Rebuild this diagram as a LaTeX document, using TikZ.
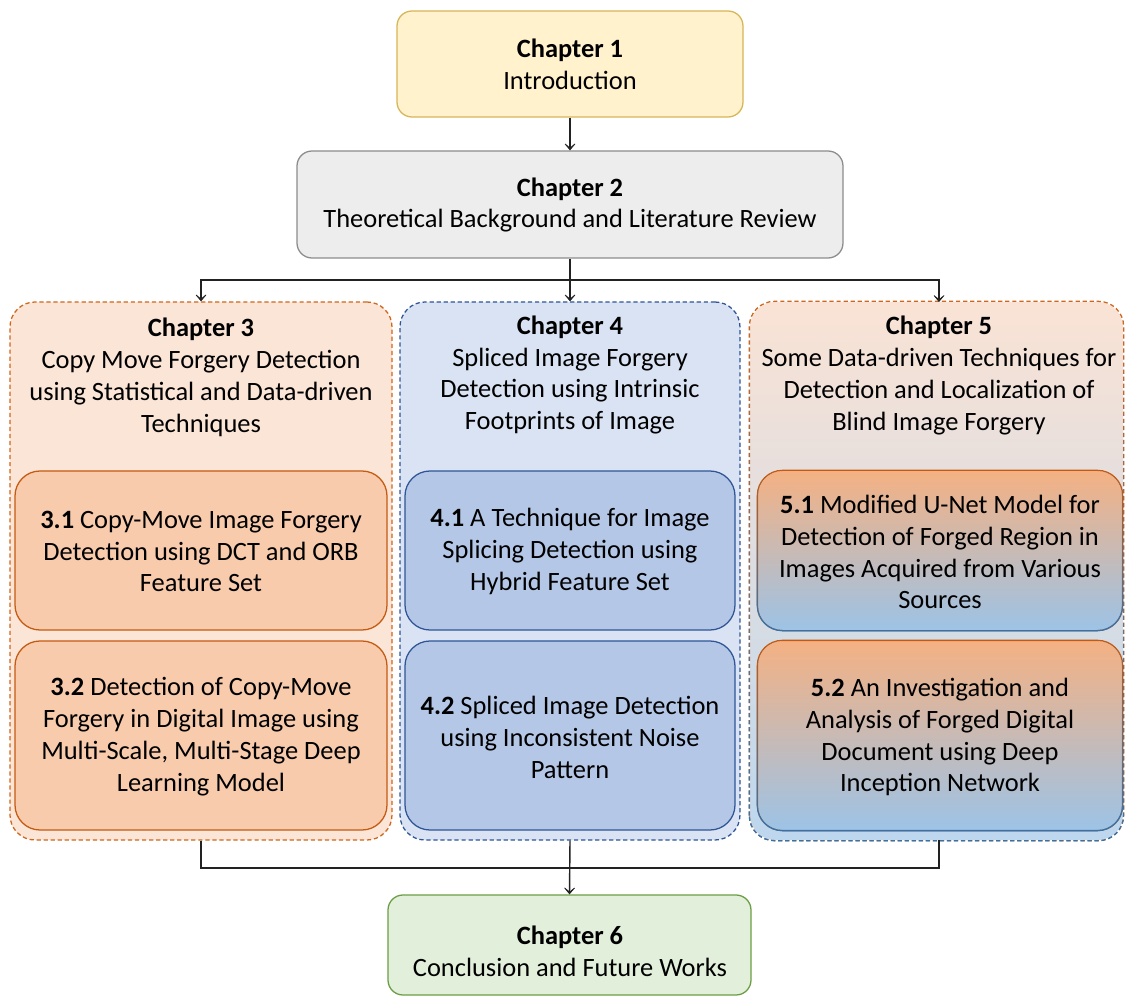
\documentclass[tikz,border=0pt]{standalone}
\usepackage{fontspec}
\setmainfont{Carlito}
\usetikzlibrary{arrows.meta,fadings}
\definecolor{yfill}{HTML}{FFF2CC}\definecolor{ydraw}{HTML}{D6B656}
\definecolor{gfill}{HTML}{EDEDED}\definecolor{gdraw}{HTML}{8C8C8C}
\definecolor{ofill}{HTML}{FBE5D6}\definecolor{odraw}{HTML}{D0661C}
\definecolor{oin}{HTML}{F8CBAD}\definecolor{oindraw}{HTML}{C55A11}
\definecolor{bfill}{HTML}{DAE3F3}\definecolor{bdraw}{HTML}{2F5597}
\definecolor{bin}{HTML}{B4C7E7}
\definecolor{mixtop}{HTML}{F4B183}\definecolor{mixbot}{HTML}{9DC3E6}
\definecolor{mixdraw}{HTML}{2E75B6}
\definecolor{c5top}{HTML}{FAE3D5}\definecolor{c5bot}{HTML}{BDD7EE}
\definecolor{grfill}{HTML}{E2EFDA}\definecolor{grdraw}{HTML}{6A9E45}
\definecolor{linec}{HTML}{222222}
\tikzfading[name=fadeup, top color=transparent!100, bottom color=transparent!0]
\newcommand{\pu}{0.025cm}
\tikzset{
  txt/.style={font=\fontsize{18.8pt}{22.7pt}\selectfont, align=center, inner sep=0pt, text=black},
  box/.style={rectangle, rounded corners=15*\pu, line width=0.9pt, inner sep=0pt},
  cont/.style={rectangle, rounded corners=25*\pu, line width=0.9pt, dash pattern=on 3pt off 2pt, inner sep=0pt},
  inbox/.style={rectangle, rounded corners=25*\pu, line width=0.9pt, inner sep=0pt},
  arr/.style={line width=1pt, draw=linec, -{Stealth[length=6.5pt,width=11pt,inset=4.5pt]}},
  ln/.style={line width=1pt, draw=linec},
}
\begin{document}
\begin{tikzpicture}[x=0.025cm,y=-0.025cm]
\useasboundingbox (0,0) rectangle (1125,997);
% Chapter 1 and 2
\node[box, draw=ydraw, fill=yfill, minimum width=346*\pu, minimum height=106*\pu] (c1) at (570,64) {};
\node[txt] (c1t) at (570,64) {\textbf{Chapter 1}\\Introduction};
\node[box, draw=gdraw, fill=gfill, minimum width=546*\pu, minimum height=107*\pu] (c2) at (570,204.5) {};
\node[txt] (c2t) at (570,205) {\textbf{Chapter 2}\\Theoretical Background and Literature Review};
% containers
\node[cont, draw=odraw, fill=ofill, minimum width=382*\pu, minimum height=538*\pu] (c3) at (201,571) {};
\node[cont, draw=bdraw, fill=bfill, minimum width=340*\pu, minimum height=538*\pu] (c4) at (570,571) {};
\node[cont, top color=c5top, bottom color=c5bot, minimum width=373*\pu, minimum height=538*\pu] (c5) at (936.5,571) {};
\draw[cont, draw=odraw] (c5.south west) rectangle (c5.north east);
\draw[cont, draw=mixdraw, path fading=fadeup, fit fading=true] (c5.south west) rectangle (c5.north east);
\coordinate (c5in) at (939,302);
\coordinate (c5out) at (939,840);
% container titles
\node[txt] (c3t) at (201,377) {\textbf{Chapter 3}\\Copy Move Forgery Detection\\using Statistical and Data-driven\\Techniques};
\node[txt] (c4t) at (570,375) {\textbf{Chapter 4}\\Spliced Image Forgery\\Detection using Intrinsic\\Footprints of Image};
\node[txt] (c5t) at (939,375.5) {\textbf{Chapter 5}\\Some Data-driven Techniques for\\Detection and Localization of\\Blind Image Forgery};
% inner boxes chapter 3
\node[inbox, draw=oindraw, fill=oin, minimum width=372*\pu, minimum height=159*\pu] (s31) at (201,550.5) {};
\node[txt] (s31t) at (201,551.5) {\textbf{3.1} Copy-Move Image Forgery\\Detection using DCT and ORB\\Feature Set};
\node[inbox, draw=oindraw, fill=oin, minimum width=372*\pu, minimum height=189*\pu] (s32) at (201,735.5) {};
\node[txt] (s32t) at (201,737) {\textbf{3.2} Detection of Copy-Move\\Forgery in Digital Image using\\Multi-Scale, Multi-Stage Deep\\Learning Model};
% inner boxes chapter 4
\node[inbox, draw=bdraw, fill=bin, minimum width=330*\pu, minimum height=159*\pu] (s41) at (570,550.5) {};
\node[txt] (s41t) at (570,551.5) {\textbf{4.1} A Technique for Image\\Splicing Detection using\\Hybrid Feature Set};
\node[inbox, draw=bdraw, fill=bin, minimum width=330*\pu, minimum height=189*\pu] (s42) at (570,735.5) {};
\node[txt] (s42t) at (570,737) {\textbf{4.2} Spliced Image Detection\\using Inconsistent Noise\\Pattern};
% inner boxes chapter 5
\node[inbox, top color=mixtop, bottom color=mixbot, minimum width=364*\pu, minimum height=159*\pu] (s51) at (940,550.5) {};
\draw[inbox, draw=oindraw] (s51.south west) rectangle (s51.north east);
\draw[inbox, draw=mixdraw, path fading=fadeup, fit fading=true] (s51.south west) rectangle (s51.north east);
\node[txt] (s51t) at (940,552) {\textbf{5.1} Modified U-Net Model for\\Detection of Forged Region in\\Images Acquired from Various\\Sources};
\node[inbox, top color=mixtop, bottom color=mixbot, minimum width=364*\pu, minimum height=189*\pu] (s52) at (940,735.5) {};
\draw[inbox, draw=oindraw] (s52.south west) rectangle (s52.north east);
\draw[inbox, draw=mixdraw, path fading=fadeup, fit fading=true] (s52.south west) rectangle (s52.north east);
\node[txt] (s52t) at (940,737) {\textbf{5.2} An Investigation and\\Analysis of Forged Digital\\Document using Deep\\Inception Network};
% Chapter 6
\node[box, draw=grdraw, fill=grfill, minimum width=363*\pu, minimum height=100*\pu] (c6) at (569.5,945) {};
\node[txt] (c6t) at (570,951) {\textbf{Chapter 6}\\Conclusion and Future Works};
% connectors
\coordinate (split) at (570,280);
\coordinate (join) at (570,868);
\draw[arr] (c1.south) -- (c2.north);
\draw[arr] (c2.south) -- (c4.north);
\draw[arr] (split) -| (c3.north);
\draw[arr] (split) -| (c5in);
\draw[ln] (c3.south) |- (join);
\draw[ln] (c5out) |- (join);
\draw[arr] (c4.south) -- (c6.north);
\end{tikzpicture}
\end{document}
